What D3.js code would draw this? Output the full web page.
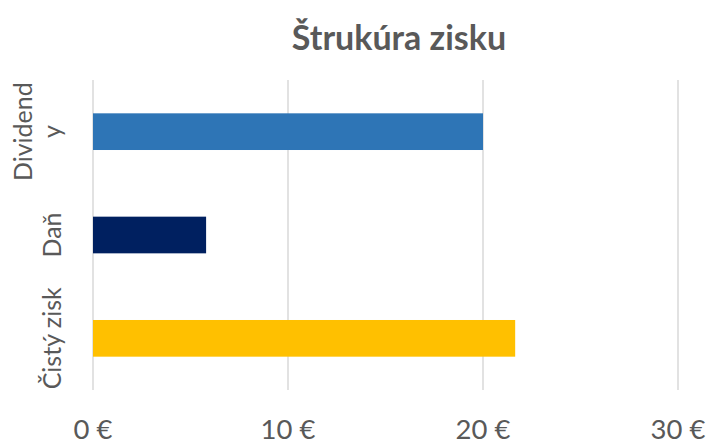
<!DOCTYPE html>
<html>
<head>
<meta charset="utf-8">
<script src="https://cdn.jsdelivr.net/npm/d3@7"></script>
<style>
  html, body { margin: 0; padding: 0; background: #fff; }
  svg { display: block; }
</style>
</head>
<body>
<svg id="chart" width="709" height="444"></svg>
<script>
const title = "Štrukúra zisku";
const categories = ["Dividendy", "Daň", "Čistý zisk"];
const categoryLines = [["Dividend", "y"], ["Daň"], ["Čistý zisk"]];
const values = [20, 5.8, 21.65];
const colors = ["#2E75B6", "#002060", "#FFC000"];
const xTicks = [0, 10, 20, 30];
const xTickLabels = ["0 €", "10 €", "20 €", "30 €"];

const svg = d3.select("#chart");
const W = 709, H = 444;
const plot = { left: 93, right: 678, top: 80, bottom: 390 };
const font = "Lato, 'Open Sans', sans-serif";
const textColor = "#595959";

svg.append("rect").attr("width", W).attr("height", H).attr("fill", "#fff");

const x = d3.scaleLinear().domain([0, 30]).range([plot.left, plot.right]);
const y = d3.scaleBand().domain(categories).range([plot.top, plot.bottom])
  .paddingInner(0.645).paddingOuter(0.3225);

// gridlines
svg.append("g").selectAll("line").data(xTicks).join("line")
  .attr("x1", d => x(d)).attr("x2", d => x(d))
  .attr("y1", plot.top).attr("y2", plot.bottom)
  .attr("stroke", "#D9D9D9").attr("stroke-width", 1.5);

// bars
svg.append("g").selectAll("rect").data(categories).join("rect")
  .attr("x", x(0))
  .attr("y", d => y(d))
  .attr("width", (d, i) => x(values[i]) - x(0))
  .attr("height", y.bandwidth())
  .attr("fill", (d, i) => colors[i]);

// x tick labels
svg.append("g").selectAll("text").data(xTicks).join("text")
  .attr("x", d => x(d)).attr("y", 439)
  .attr("text-anchor", "middle")
  .attr("font-family", font).attr("font-size", 27.5)
  .attr("fill", textColor)
  .text((d, i) => xTickLabels[i]);

// y category labels (rotated)
const lineGap = 29;
categories.forEach((c, i) => {
  const lines = categoryLines[i];
  const cy = y(c) + y.bandwidth() / 2;
  const lastBaseline = 61;
  lines.forEach((ln, j) => {
    const bx = lastBaseline - (lines.length - 1 - j) * lineGap;
    svg.append("text")
      .attr("transform", `translate(${bx},${cy}) rotate(-90)`)
      .attr("text-anchor", "middle")
      .attr("font-family", font).attr("font-size", 25)
      .attr("fill", textColor)
      .text(ln);
  });
});

// title
svg.append("text")
  .attr("x", 399).attr("y", 50)
  .attr("text-anchor", "middle")
  .attr("font-family", font).attr("font-size", 34).attr("font-weight", "bold")
  .attr("fill", textColor)
  .text(title);
</script>
</body>
</html>
